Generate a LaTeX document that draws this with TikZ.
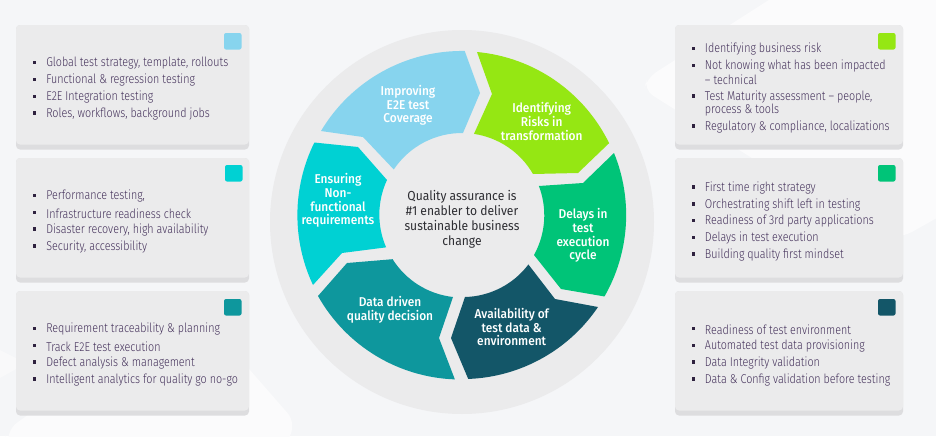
\documentclass[tikz,border=0pt]{standalone}
\usepackage{fontspec}
\setmainfont{Fira Sans Light}[FakeStretch=0.84]
\newfontfamily\labelfont{Fira Sans Medium}[FakeStretch=0.93]
\newfontfamily\hubfont{Fira Sans}[FakeStretch=0.925]
\definecolor{bgc}{HTML}{F5F6F8}
\definecolor{blobc}{HTML}{FBFBFC}
\definecolor{discc}{HTML}{EBEBEC}
\definecolor{cardlow}{HTML}{DDDDDF}
\definecolor{txtc}{HTML}{43305A}
\definecolor{hubtxt}{HTML}{2E2E33}
\definecolor{cimp}{HTML}{87D4EE}
\definecolor{cide}{HTML}{95E713}
\definecolor{cdel}{HTML}{00C478}
\definecolor{cava}{HTML}{135668}
\definecolor{cdat}{HTML}{0E979D}
\definecolor{cens}{HTML}{00D1D3}
\tikzset{
  seg/.style={draw=none},
  seglabel/.style={text=white,align=center,inner sep=0pt,yshift=-0.75pt,font=\labelfont\fontsize{9.6}{10.3}\selectfont},
  hublabel/.style={text=hubtxt,align=center,inner sep=0pt,yshift=-0.75pt,font=\hubfont\fontsize{9.8}{11.25}\selectfont},
  item/.style={text=txtc,anchor=west,inner sep=0pt,yshift=-0.5pt,font=\fontsize{9.6}{11}\selectfont},
  bul/.style={fill=txtc!70!black,minimum size=2.4pt,inner sep=0pt,draw=none},
  cardtop/.style={fill=discc,draw=none,rounded corners=3pt},
  cardbot/.style={fill=cardlow,draw=none,rounded corners=3pt},
  chip/.style={draw=none,rounded corners=1.5pt},
}
\newcommand{\card}[4]{% x1,x2,ytop,name
  \fill[cardbot] (#1,#3) rectangle (#2,#3+124.5);
  \fill[cardtop] (#1,#3) rectangle (#2,#3+119.5);
}
\newcommand{\chipat}[3]{\fill[chip,fill=#3] (#1,#2) rectangle +(17.5,16.5);}
\newcommand{\itm}[4]{% name,x,y,text
  \node[bul] (#1b) at (#2-11.3,#3) {};
  \node[item] (#1) at (#2,#3) {#4};
}
\newcommand{\cont}[4]{\node[item] (#1) at (#2,#3) {#4};}
\begin{document}
\begin{tikzpicture}[x=0.75pt,y=-0.75pt]
\useasboundingbox (0,0) rectangle (936,436);
\fill[bgc] (0,0) rectangle (936,436);
% background shapes
\fill[blobc,rounded corners=8pt] (647,78) -- (800,-20) -- (960,-20) -- (960,205) -- (903,237) -- (860,237) -- (763,165) -- (644,90) -- cycle;
\fill[blobc,rounded corners=12pt] (4,432) -- (60,392) -- (215,330) -- (298,425) -- (280,450) -- (10,450) -- cycle;
\fill[blobc!60!bgc] (0,350) -- (18,359) -- (18,368) -- (0,378) -- cycle;
% disc
\fill[discc] (462,222) circle [radius=192];
% segments
\fill[seg,fill=cimp] (321,131) arc[start angle=210.8,end angle=271,radius=164] -- (480,93) -- (463,133) arc[start angle=270.7,end angle=213.7,radius=82] -- (363,137) -- cycle;
\fill[seg,fill=cide] (477,52) arc[start angle=275.3,end angle=333.9,radius=164] -- (578,173) -- (533,174) arc[start angle=330,end angle=278.4,radius=82] -- (492,94) -- cycle;
\fill[seg,fill=cdel] (614,153) arc[start angle=-22.2,end angle=29.8,radius=164] -- (561,289) -- (534,255) arc[start angle=29,end angle=-20.9,radius=82] -- (583,183) -- cycle;
\fill[seg,fill=cava] (598,307) arc[start angle=34.1,end angle=87.9,radius=164] -- (451,338) -- (465,297) arc[start angle=88.6,end angle=37.1,radius=82] -- (555,299) -- cycle;
\fill[seg,fill=cdat] (318,296) arc[start angle=150.6,end angle=92.1,radius=164] -- (439,338) -- (453,297) arc[start angle=96.3,end angle=147.8,radius=82] -- (347,263) -- cycle;
\fill[seg,fill=cens] (313,285) arc[start angle=154.8,end angle=206.3,radius=164] -- (358,147) -- (387,180) arc[start angle=205,end angle=156.5,radius=82] -- (342,253) -- cycle;
% segment labels
\node[seglabel] (limp) at (408,104.5) {Improving\\E2E test\\Coverage};
\node[seglabel] (lide) at (541.7,120.5) {Identifying\\Risks in\\transformation};
\node[seglabel] (ldel) at (583,234.5) {Delays in\\test\\execution\\cycle};
\node[seglabel] (lava) at (511.7,326) {Availability of\\test data \&\\environment};
\node[seglabel] (ldat) at (390,309) {Data driven\\quality decision};
\node[seglabel] (lens) at (338,199.5) {Ensuring\\Non-\\functional\\requirements};
\node[hublabel] (hub) at (462,218.5) {Quality assurance is\\\#1 enabler to deliver\\sustainable business\\change};
% cards
\card{16}{249}{25}{}
\card{16}{249}{158}{}
\card{16}{249}{291}{}
\card{675}{903}{25}{}
\card{675}{903}{158}{}
\card{675}{903}{291}{}
\chipat{224}{33}{cimp}
\chipat{225}{165}{cens}
\chipat{224}{299}{cdat}
\chipat{878}{33}{cide}
\chipat{878}{165}{cdel}
\chipat{878}{299}{cava}
% left lists
\itm{a1}{46}{62.7}{Global test strategy, template, rollouts}
\itm{a2}{46}{79.7}{Functional \& regression testing}
\itm{a3}{46}{96.3}{E2E Integration testing}
\itm{a4}{46}{113}{Roles, workflows, background jobs}
\itm{b1}{46}{195.7}{Performance testing,}
\itm{b2}{46}{212.7}{Infrastructure readiness check}
\itm{b3}{46}{229}{Disaster recovery, high availability}
\itm{b4}{46}{246}{Security, accessibility}
\itm{c1}{46}{328.7}{Requirement traceability \& planning}
\itm{c2}{46}{345.7}{Track E2E test execution}
\itm{c3}{46}{362}{Defect analysis \& management}
\itm{c4}{46}{379}{Intelligent analytics for quality go no-go}
% right lists
\itm{d1}{704.7}{48.7}{Identifying business risk}
\itm{d2}{704.7}{65.7}{Not knowing what has been impacted}
\cont{d2x}{704.7}{79}{– technical}
\itm{d3}{704.7}{96}{Test Maturity assessment – people,}
\cont{d3x}{704.7}{109.7}{process \& tools}
\itm{d4}{704.7}{126}{Regulatory \& compliance, localizations}
\itm{e1}{704.7}{187}{First time right strategy}
\itm{e2}{704.7}{204}{Orchestrating shift left in testing}
\itm{e3}{704.7}{220.7}{Readiness of 3rd party applications}
\itm{e4}{704.7}{237.5}{Delays in test execution}
\itm{e5}{704.7}{254}{Building quality first mindset}
\itm{f1}{704.7}{328.7}{Readiness of test environment}
\itm{f2}{704.7}{345.7}{Automated test data provisioning}
\itm{f3}{704.7}{362}{Data Integrity validation}
\itm{f4}{704.7}{379}{Data \& Config validation before testing}
\end{tikzpicture}
\end{document}
